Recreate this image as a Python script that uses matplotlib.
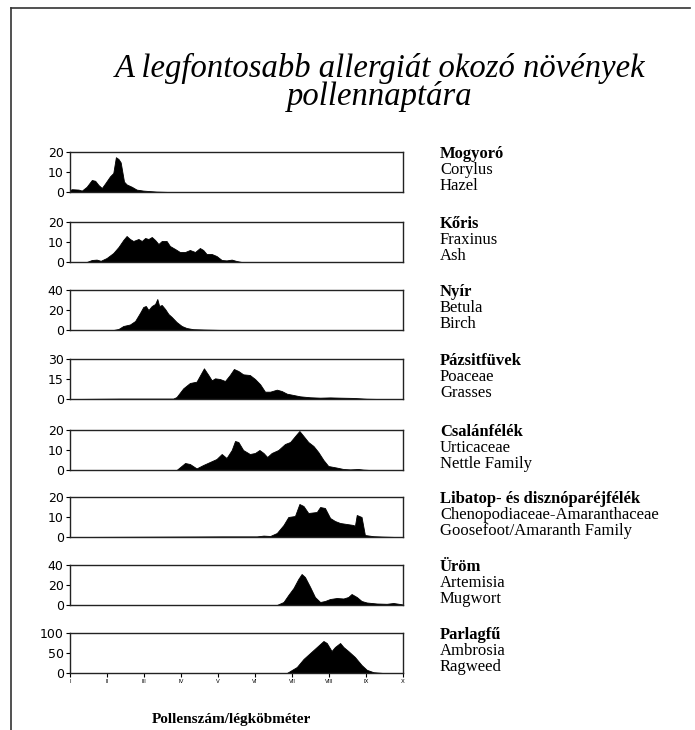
import numpy as np
import matplotlib
matplotlib.use("Agg")
import matplotlib.pyplot as plt
from matplotlib.lines import Line2D

# month axis (1 = I ... 10 = X)
months = [1, 2, 3, 4, 5, 6, 7, 8, 9, 10]
month_labels = ["I", "II", "III", "IV", "V", "VI", "VII", "VIII", "IX", "X"]

hazel_x = [1.0, 1.05, 1.23, 1.32, 1.45, 1.59, 1.68, 1.77, 1.86, 1.95, 2.08, 2.17,
           2.24, 2.31, 2.37, 2.46, 2.53, 2.67, 2.80, 2.98, 3.34, 3.70, 10.0]
hazel_y = [1.0, 1.4, 1.2, 0.7, 2.6, 6.0, 5.6, 3.5, 2.0, 4.3, 7.8, 9.5,
           17.4, 16.5, 14.8, 5.2, 3.8, 2.6, 1.2, 0.7, 0.2, 0.0, 0.0]

ash_x = [1.0, 1.45, 1.59, 1.72, 1.83, 1.99, 2.17, 2.31, 2.44, 2.53, 2.62, 2.71, 2.85,
         2.94, 3.03, 3.12, 3.21, 3.30, 3.39, 3.48, 3.61, 3.70, 3.84, 3.97, 4.11,
         4.24, 4.38, 4.51, 4.60, 4.69, 4.83, 4.96, 5.10, 5.23, 5.37, 5.50, 5.64, 10.0]
ash_y = [0.0, 0.0, 1.0, 1.2, 0.6, 2.0, 4.5, 7.5, 11.0, 13.0, 11.5, 10.5, 11.5,
         10.5, 12.0, 11.5, 12.5, 11.0, 9.0, 10.5, 10.5, 8.0, 6.5, 5.0, 5.0,
         6.0, 5.0, 7.0, 6.0, 4.0, 4.0, 3.0, 1.0, 0.8, 1.2, 0.5, 0.0, 0.0]

birch_x = [1.0, 2.17, 2.31, 2.44, 2.62, 2.76, 2.89, 2.98, 3.05, 3.12, 3.21, 3.30,
           3.36, 3.41, 3.48, 3.57, 3.66, 3.75, 3.88, 4.02, 4.15, 4.33, 4.69, 5.14, 10.0]
birch_y = [0.0, 0.0, 1.0, 4.0, 5.5, 9.0, 17.0, 23.0, 24.0, 20.0, 24.0, 26.0,
           31.0, 24.0, 25.0, 21.0, 16.0, 13.0, 8.0, 4.0, 2.0, 0.8, 0.4, 0.0, 0.0]

grass_x = [1.0, 2.35, 3.79, 3.88, 4.06, 4.24, 4.42, 4.56, 4.62, 4.74, 4.83, 4.92,
           5.05, 5.19, 5.32, 5.43, 5.55, 5.68, 5.86, 6.00, 6.14, 6.27, 6.41, 6.59,
           6.72, 6.86, 7.04, 7.22, 7.49, 7.76, 8.03, 8.30, 8.66, 8.84, 9.02, 9.38, 10.0]
grass_y = [0.0, 0.3, 0.3, 1.5, 8.0, 12.0, 13.0, 20.0, 23.0, 18.0, 14.0, 15.5,
           15.0, 13.5, 18.0, 22.5, 21.0, 18.5, 18.0, 15.0, 11.0, 5.5, 5.5, 7.0,
           6.0, 4.0, 3.0, 2.0, 1.3, 1.0, 1.2, 1.0, 0.8, 0.5, 0.2, 0.0, 0.0]

nettle_x = [1.0, 3.88, 4.11, 4.24, 4.42, 4.60, 4.78, 4.96, 5.10, 5.23, 5.37, 5.46,
            5.55, 5.68, 5.86, 6.00, 6.12, 6.23, 6.33, 6.45, 6.63, 6.81, 6.95, 7.04,
            7.13, 7.20, 7.31, 7.44, 7.58, 7.71, 7.85, 7.98, 8.21, 8.39, 8.57, 8.79,
            8.93, 9.11, 10.0]
nettle_y = [0.0, 0.0, 3.5, 3.0, 0.8, 2.5, 4.0, 5.5, 8.0, 6.0, 10.0, 14.5,
            14.0, 10.0, 8.0, 8.5, 10.0, 8.5, 6.5, 8.5, 10.0, 13.0, 14.0, 16.0,
            18.0, 19.5, 17.0, 14.0, 12.0, 9.0, 5.0, 2.0, 1.2, 0.5, 0.3, 0.5,
            0.2, 0.0, 0.0]

goose_x = [1.0, 5.14, 6.05, 6.23, 6.41, 6.59, 6.77, 6.90, 7.08, 7.20, 7.31, 7.44,
           7.67, 7.76, 7.89, 8.03, 8.16, 8.30, 8.48, 8.66, 8.70, 8.75, 8.88, 8.93,
           8.97, 9.20, 9.47, 9.83, 10.0]
goose_y = [0.0, 0.3, 0.3, 0.7, 0.5, 2.0, 6.0, 10.0, 10.5, 16.5, 15.5, 12.0,
           12.5, 15.0, 14.5, 9.5, 8.0, 7.0, 6.5, 6.0, 5.5, 11.0, 10.0, 5.0,
           1.0, 0.4, 0.2, 0.0, 0.0]

mugwort_x = [1.0, 6.59, 6.77, 6.90, 7.04, 7.17, 7.26, 7.35, 7.49, 7.62, 7.76, 7.89,
             8.03, 8.21, 8.39, 8.52, 8.61, 8.75, 8.88, 9.02, 9.29, 9.56, 9.74,
             9.92, 10.0]
mugwort_y = [0.0, 0.0, 3.0, 10.0, 17.0, 26.0, 31.0, 28.0, 18.0, 8.0, 3.0, 4.0,
             6.0, 7.0, 6.5, 8.0, 11.0, 8.0, 4.0, 2.5, 1.5, 1.2, 2.0,
             1.0, 0.5]

ragweed_x = [1.0, 6.86, 6.95, 7.13, 7.31, 7.49, 7.67, 7.85, 7.94, 8.07, 8.16, 8.30,
             8.39, 8.52, 8.70, 8.88, 9.02, 9.20, 9.47, 10.0]
ragweed_y = [0.0, 0.0, 5.0, 15.0, 35.0, 50.0, 65.0, 80.0, 75.0, 55.0, 65.0, 75.0,
             65.0, 55.0, 40.0, 20.0, 8.0, 2.0, 0.0, 0.0]

names_hu = ["Mogyoró", "Kőris", "Nyír", "Pázsitfüvek", "Csalánfélék",
            "Libatop- és disznóparéjfélék", "Üröm", "Parlagfű"]
names_lat = ["Corylus", "Fraxinus", "Betula", "Poaceae", "Urticaceae",
             "Chenopodiaceae-Amaranthaceae", "Artemisia", "Ambrosia"]
names_en = ["Hazel", "Ash", "Birch", "Grasses", "Nettle Family",
            "Goosefoot/Amaranth Family", "Mugwort", "Ragweed"]
y_max = [20, 20, 40, 30, 20, 20, 40, 100]

series = [(hazel_x, hazel_y), (ash_x, ash_y), (birch_x, birch_y), (grass_x, grass_y),
          (nettle_x, nettle_y), (goose_x, goose_y), (mugwort_x, mugwort_y),
          (ragweed_x, ragweed_y)]

W, H = 695, 730
fig = plt.figure(figsize=(W / 100, H / 100), dpi=100)
fig.patch.set_facecolor("white")

# panel tops in pixels (from the scan)
tops = [152, 222, 290, 359, 430, 497, 565, 633]
panel_h = 40
left_px, right_px = 70, 403
serif = "Liberation Serif"

for i, (xs, ys) in enumerate(series):
    bottom = 1 - (tops[i] + panel_h) / H
    ax = fig.add_axes([left_px / W, bottom, (right_px - left_px) / W, panel_h / H])
    ax.fill_between(xs, ys, 0, color="black", lw=0.6, edgecolor="black")
    ax.set_xlim(1, 10)
    ax.set_ylim(0, y_max[i])
    ax.set_yticks([0, y_max[i] / 2, y_max[i]])
    ax.set_yticklabels([0, int(y_max[i] / 2), y_max[i]])
    ax.tick_params(axis="y", length=3, width=0.8, pad=1.5, labelsize=9)
    for s in ax.spines.values():
        s.set_linewidth(1.0)
        s.set_color("#222222")
    if i == len(series) - 1:
        ax.set_xticks(months)
        ax.set_xticklabels(month_labels)
        ax.tick_params(axis="x", length=3, width=0.8, pad=1, labelsize=4)
    else:
        ax.set_xticks([])

    # names on the right
    tx = 440 / W
    ty = tops[i] + 2
    fig.text(tx, 1 - ty / H, names_hu[i], fontsize=12, fontweight="bold",
             family=serif, va="center", ha="left")
    fig.text(tx, 1 - (ty + 16) / H, names_lat[i], fontsize=12,
             family=serif, va="center", ha="left")
    fig.text(tx, 1 - (ty + 32) / H, names_en[i], fontsize=12,
             family=serif, va="center", ha="left")

# title
fig.text(380 / W, 1 - 68 / H, "A legfontosabb allergiát okozó növények",
         fontsize=23.5, style="italic", family=serif, ha="center", va="center")
fig.text(380 / W, 1 - 97 / H, "pollennaptára",
         fontsize=23.5, style="italic", family=serif, ha="center", va="center")

# bottom caption
fig.text(231 / W, 1 - 719 / H, "Pollenszám/légköbméter", fontsize=11,
         fontweight="bold", family=serif, ha="center", va="center")

# scanned page frame (left and top edges)
fig.add_artist(Line2D([11 / W, 11 / W], [0, 1 - 8 / H], color="#333333", lw=1.2))
fig.add_artist(Line2D([11 / W, 690 / W], [1 - 8 / H, 1 - 8 / H], color="#333333", lw=1.2))

fig.savefig("out.png", dpi=100)
